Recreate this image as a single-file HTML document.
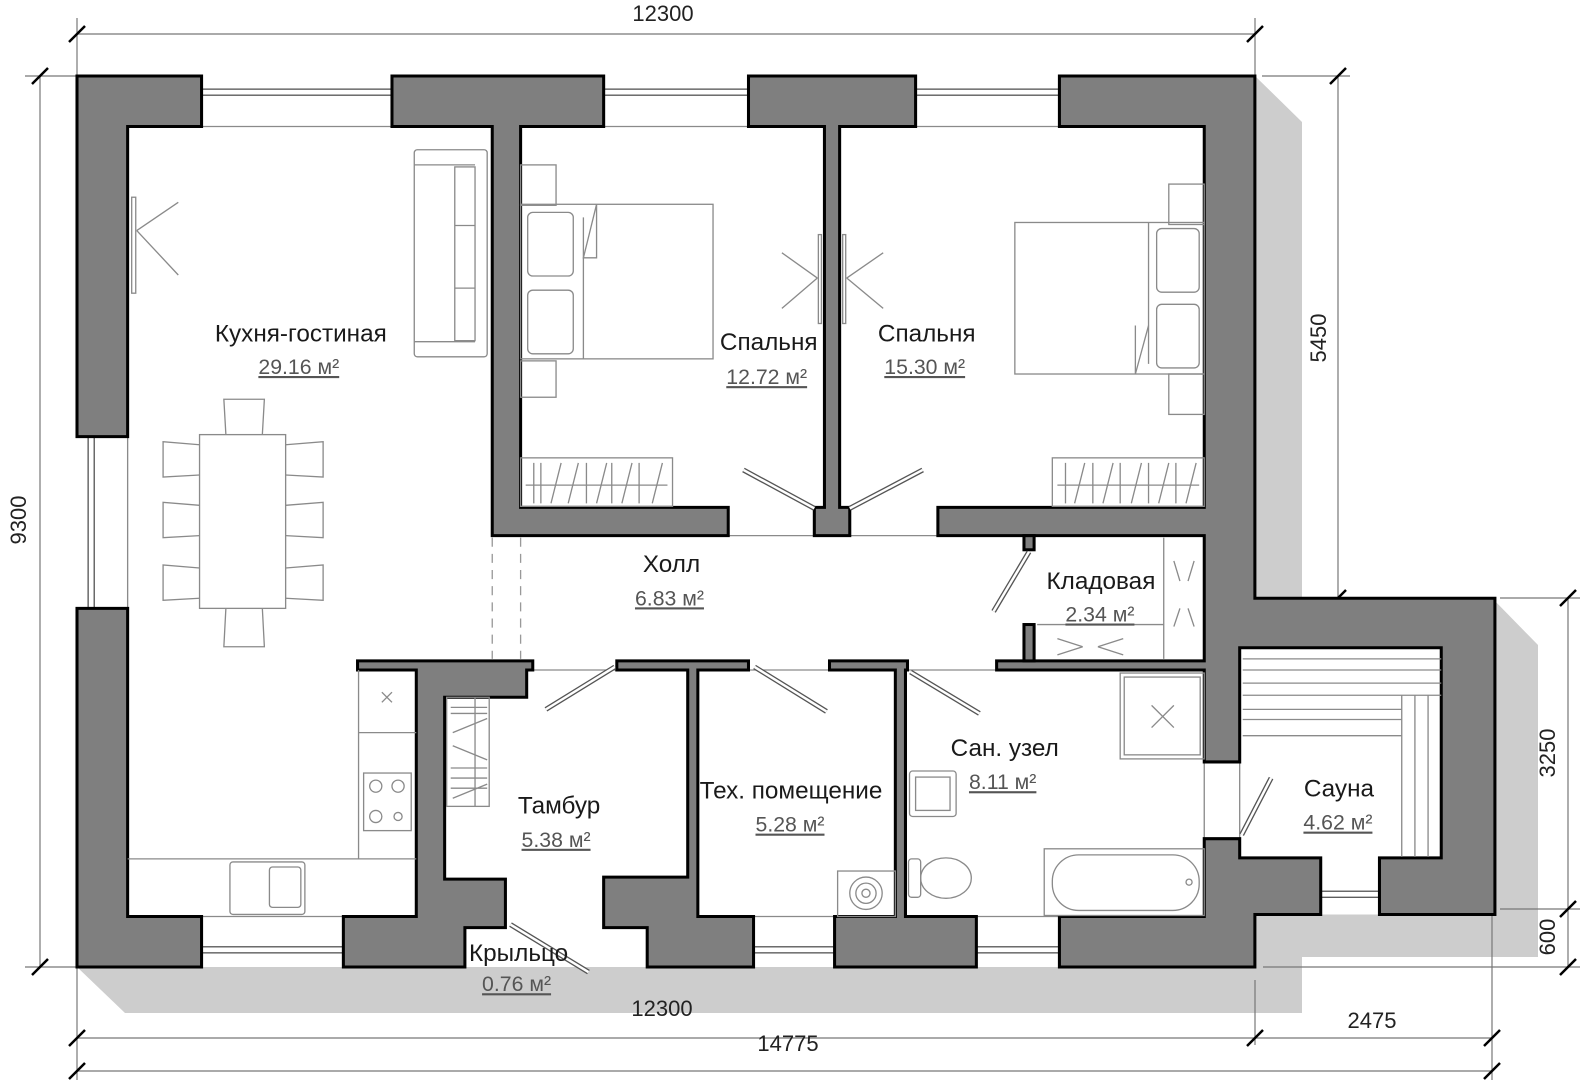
<!DOCTYPE html>
<html><head><meta charset="utf-8"><style>
html,body{margin:0;padding:0;background:#fff;width:1583px;height:1080px;overflow:hidden}
svg{display:block}
.w{fill:#7f7f7f;stroke:#000;stroke-width:3;stroke-linejoin:miter}
.f{fill:none;stroke:#8a8a8a;stroke-width:1.3}
.d{stroke:#777;stroke-width:1.2;fill:none}
.t{font-family:"Liberation Sans",sans-serif;font-size:24px;fill:#1a1a1a;text-anchor:middle}
.a{font-family:"Liberation Sans",sans-serif;font-size:21px;fill:#555;text-anchor:middle;text-decoration:underline}
.dim{font-family:"Liberation Sans",sans-serif;font-size:22px;fill:#222;text-anchor:middle}
.tk{stroke:#000;stroke-width:2.5}
.win{fill:#fff;stroke:#555;stroke-width:1.3}
.door{stroke:#555;stroke-width:5;stroke-linecap:butt}
.door2{stroke:#fff;stroke-width:2.4}
</style></head><body>
<svg width="1583" height="1080" viewBox="0 0 1583 1080" xmlns="http://www.w3.org/2000/svg">
<!-- shadow -->
<polygon points="1255,76 1302,122 1302,598 1492,598 1538,645 1538,957 1302,957 1302,1013 125,1013 77,967" fill="#cdcdcd"/>
<!-- dimension lines -->
<g class="d">
<line x1="77" y1="34" x2="1255" y2="34"/><line x1="77" y1="18" x2="77" y2="76"/><line x1="1255" y1="18" x2="1255" y2="76"/>
<line x1="40" y1="76" x2="40" y2="967"/><line x1="25" y1="76" x2="77" y2="76"/><line x1="25" y1="967" x2="77" y2="967"/>
<line x1="1338" y1="76" x2="1338" y2="598"/><line x1="1262" y1="76" x2="1350" y2="76"/><line x1="1300" y1="598" x2="1350" y2="598"/>
<line x1="1568" y1="598" x2="1568" y2="967"/><line x1="1500" y1="598" x2="1580" y2="598"/><line x1="1500" y1="909" x2="1580" y2="909"/><line x1="1263" y1="967" x2="1580" y2="967"/>
<line x1="77" y1="1038" x2="1492" y2="1038"/><line x1="77" y1="1071" x2="1492" y2="1071"/>
<line x1="77" y1="967" x2="77" y2="1080"/><line x1="1255" y1="980" x2="1255" y2="1045"/><line x1="1492" y1="915" x2="1492" y2="1080"/>
</g>
<g class="tk">
<line x1="69" y1="42" x2="85" y2="26"/><line x1="1247" y1="42" x2="1263" y2="26"/>
<line x1="32" y1="84" x2="48" y2="68"/><line x1="32" y1="975" x2="48" y2="959"/>
<line x1="1330" y1="84" x2="1346" y2="68"/><line x1="1330" y1="606" x2="1346" y2="590"/>
<line x1="1560" y1="606" x2="1576" y2="590"/><line x1="1560" y1="917" x2="1576" y2="901"/><line x1="1560" y1="975" x2="1576" y2="959"/>
<line x1="69" y1="1046" x2="85" y2="1030"/><line x1="1247" y1="1046" x2="1263" y2="1030"/><line x1="1484" y1="1046" x2="1500" y2="1030"/>
<line x1="69" y1="1079" x2="85" y2="1063"/><line x1="1484" y1="1079" x2="1500" y2="1063"/>
</g>
<text class="dim" x="663" y="21">12300</text>
<text class="dim" x="662" y="1016">12300</text>
<text class="dim" x="1372" y="1028">2475</text>
<text class="dim" x="788" y="1051">14775</text>
<text class="dim" transform="translate(26,520) rotate(-90)">9300</text>
<text class="dim" transform="translate(1326,338) rotate(-90)">5450</text>
<text class="dim" transform="translate(1555,753) rotate(-90)">3250</text>
<text class="dim" transform="translate(1555,937) rotate(-90)">600</text>

<g transform="matrix(1.0128,0,0,1.0102,-0.986,0.235)">
<!-- white footprint -->
<polygon points="77,75 1240,75 1240,592 1477,592 1477,905 1240,905 1240,957 77,957" fill="#fff"/>
<!-- windows -->
<g class="win">
<rect x="200" y="88" width="188" height="6"/><rect x="597" y="88" width="143" height="6"/><rect x="905" y="88" width="142" height="6"/>
<rect x="88" y="432" width="6" height="170"/>
<rect x="200" y="937" width="140" height="6"/><rect x="745" y="937" width="80" height="6"/><rect x="965" y="937" width="82" height="6"/>
<rect x="1305" y="882" width="58" height="6"/>
</g>
<g class="f"><line x1="200" y1="125" x2="388" y2="125"/><line x1="597" y1="125" x2="740" y2="125"/><line x1="905" y1="125" x2="1047" y2="125"/>
<line x1="127" y1="432" x2="127" y2="602"/><line x1="200" y1="907" x2="340" y2="907"/><line x1="745" y1="907" x2="825" y2="907"/><line x1="965" y1="907" x2="1047" y2="907"/>
<line x1="720" y1="530" x2="805" y2="530"/><line x1="840" y1="530" x2="927" y2="530"/><line x1="527" y1="663" x2="610" y2="663"/><line x1="740" y1="663" x2="820" y2="663"/><line x1="897" y1="663" x2="985" y2="663"/>
<line x1="1190" y1="754" x2="1190" y2="830"/><line x1="1225" y1="754" x2="1225" y2="830"/>
</g>
<!-- walls -->
<polygon class="w" points="77,75 200,75 200,125 127,125 127,432 77,432"/>
<polygon class="w" points="388,75 597,75 597,125 515,125 515,502 720,502 720,530 487,530 487,125 388,125"/>
<polygon class="w" points="740,75 905,75 905,125 830,125 830,502 840,502 840,530 805,530 805,502 815,502 815,125 740,125"/>
<polygon class="w" points="1047,75 1240,75 1240,592 1477,592 1477,905 1363,905 1363,849 1424,849 1424,641 1225,641 1225,754 1190,754 1190,663 985,663 985,654 1190,654 1190,530 927,530 927,502 1190,502 1190,125 1047,125"/>
<polygon class="w" points="1190,830 1225,830 1225,849 1305,849 1305,905 1240,905 1240,957 1047,957 1047,907 1190,907"/>
<polygon class="w" points="77,602 127,602 127,907 200,907 200,957 77,957"/>
<polygon class="w" points="354,654 527,654 527,663 521,663 521,690 440,690 440,870 500,870 500,918 460,918 460,957 340,957 340,907 412,907 412,663 354,663"/>
<polygon class="w" points="610,654 740,654 740,663 690,663 690,907 745,907 745,957 640,957 640,918 597,918 597,868 680,868 680,663 610,663"/>
<polygon class="w" points="820,654 897,654 897,663 895,663 895,907 965,907 965,957 825,957 825,907 885,907 885,663 820,663"/>
<rect class="w" x="1012" y="530" width="10" height="14"/>
<rect class="w" x="1012" y="618" width="10" height="36"/>
<!-- dashed -->
<g stroke="#999" stroke-width="1.3" stroke-dasharray="9,7"><line x1="487" y1="532" x2="487" y2="652"/><line x1="515" y1="532" x2="515" y2="652"/></g>
<!-- doors -->
<g>
<line class="door" x1="805" y1="503" x2="735" y2="465"/><line class="door2" x1="805" y1="503" x2="735" y2="465"/>
<line class="door" x1="840" y1="503" x2="912" y2="465"/><line class="door2" x1="840" y1="503" x2="912" y2="465"/>
<line class="door" x1="1017" y1="546" x2="982" y2="605"/><line class="door2" x1="1017" y1="546" x2="982" y2="605"/>
<line class="door" x1="608" y1="660" x2="540" y2="702"/><line class="door2" x1="608" y1="660" x2="540" y2="702"/>
<line class="door" x1="746" y1="660" x2="817" y2="704"/><line class="door2" x1="746" y1="660" x2="817" y2="704"/>
<line class="door" x1="900" y1="665" x2="968" y2="706"/><line class="door2" x1="900" y1="665" x2="968" y2="706"/>
<line class="door" x1="1227" y1="826" x2="1256" y2="770"/><line class="door2" x1="1227" y1="826" x2="1256" y2="770"/>
<line class="door" x1="505" y1="915" x2="582" y2="962"/><line class="door2" x1="505" y1="915" x2="582" y2="962"/>
</g>
<!-- furniture -->
<g class="f">
<rect x="131" y="195" width="4" height="95"/><line x1="136" y1="228" x2="177" y2="200"/><line x1="136" y1="228" x2="177" y2="272"/>
<rect x="410" y="148" width="72" height="205" rx="3"/><line x1="410" y1="163" x2="470" y2="163"/><line x1="410" y1="338" x2="470" y2="338"/>
<rect x="450" y="165" width="20" height="172"/><line x1="450" y1="223" x2="470" y2="223"/><line x1="450" y1="285" x2="470" y2="285"/>
<rect x="198" y="430" width="85" height="172"/>
<path d="M224,430 L222,395 L262,395 L260,430"/><path d="M224,602 L222,640 L262,640 L260,602"/>
<path d="M198,440 L162,437 L162,472 L198,470"/><path d="M198,500 L162,497 L162,532 L198,530"/><path d="M198,562 L162,559 L162,594 L198,592"/>
<path d="M283,440 L320,437 L320,472 L283,470"/><path d="M283,500 L320,497 L320,532 L283,530"/><path d="M283,562 L320,559 L320,594 L283,592"/>
<line x1="355" y1="663" x2="355" y2="850"/><line x1="127" y1="850" x2="412" y2="850"/><line x1="355" y1="725" x2="412" y2="725"/>
<line x1="378" y1="685" x2="388" y2="695"/><line x1="388" y1="685" x2="378" y2="695"/>
<rect x="360" y="765" width="47" height="57"/><circle cx="372" cy="778" r="6"/><circle cx="394" cy="778" r="6"/><circle cx="372" cy="808" r="6"/><circle cx="394" cy="808" r="4"/>
<rect x="228" y="853" width="74" height="52" rx="3"/><rect x="267" y="858" width="31" height="40" rx="3"/>
<rect x="515" y="163" width="35" height="40"/><rect x="515" y="357" width="35" height="36"/>
<rect x="515" y="202" width="190" height="153"/><line x1="577" y1="215" x2="577" y2="355"/><path d="M577,255 L590,202 L590,255 Z"/>
<rect x="522" y="210" width="45" height="63" rx="5"/><rect x="522" y="287" width="45" height="63" rx="5"/>
<rect x="515" y="453" width="150" height="48"/><line x1="520" y1="480" x2="660" y2="480"/>
<path d="M528,458 v40 M535,458 v40 M545,498 l10,-40 M562,498 l10,-40 M580,458 v40 M590,498 l10,-40 M605,458 v40 M615,498 l10,-40 M632,458 v40 M645,498 l10,-40"/>
<rect x="809" y="232" width="3" height="88"/><line x1="808" y1="275" x2="773" y2="250"/><line x1="808" y1="275" x2="773" y2="305"/>
<rect x="833" y="232" width="3" height="88"/><line x1="837" y1="275" x2="873" y2="250"/><line x1="837" y1="275" x2="873" y2="305"/>
<rect x="1155" y="182" width="35" height="40"/><rect x="1155" y="370" width="35" height="40"/>
<rect x="1003" y="220" width="187" height="150"/><line x1="1135" y1="220" x2="1135" y2="360"/><path d="M1135,322 L1122,370 L1122,322"/>
<rect x="1143" y="226" width="42" height="63" rx="5"/><rect x="1143" y="301" width="42" height="63" rx="5"/>
<rect x="1040" y="453" width="150" height="48"/><line x1="1045" y1="480" x2="1185" y2="480"/>
<path d="M1053,458 v40 M1062,498 l10,-40 M1080,458 v40 M1090,498 l10,-40 M1107,458 v40 M1118,498 l10,-40 M1135,458 v40 M1145,498 l10,-40 M1162,458 v40 M1172,498 l10,-40"/>
<line x1="1150" y1="532" x2="1150" y2="652"/><line x1="1025" y1="618" x2="1150" y2="618"/>
<path d="M1160,555 l6,20 M1180,555 l-6,20 M1160,620 l6,-18 M1180,620 l-6,-18 M1045,632 l25,8 M1045,648 l25,-8 M1110,632 l-25,8 M1110,648 l-25,-8"/>
<rect x="442" y="690" width="42" height="108"/><line x1="470" y1="690" x2="470" y2="798"/>
<path d="M446,700 h36 M446,706 h36 M446,760 h36 M446,770 h36 M446,780 h36 M448,725 l34,-14 M448,738 l34,14 M448,790 l34,-14"/>
<rect x="1107" y="666" width="83" height="85"/><rect x="1111" y="670" width="75" height="77"/>
<line x1="1138" y1="698" x2="1160" y2="720"/><line x1="1160" y1="698" x2="1138" y2="720"/>
<rect x="1032" y="840" width="158" height="66"/><rect x="1040" y="846" width="145" height="55" rx="26"/><circle cx="1175" cy="873" r="3"/>
<rect x="899" y="763" width="46" height="45" rx="3"/><rect x="905" y="769" width="34" height="33"/>
<rect x="898" y="850" width="12" height="38" rx="3"/><ellipse cx="935" cy="869" rx="25" ry="20"/>
<rect x="828" y="862" width="57" height="45"/><circle cx="856" cy="884" r="16"/><circle cx="856" cy="884" r="10"/><circle cx="856" cy="884" r="4"/>
<path d="M1228,652 h196 M1228,663 h196 M1228,676 h196 M1228,688 h196 M1228,702 h157 M1228,712 h157 M1228,728 h157"/>
<path d="M1385,688 v160 M1398,688 v160 M1411,688 v160"/>
</g>
<!-- labels -->
<text class="t" x="298" y="338">Кухня-гостиная</text><text class="a" x="296" y="370">29.16 м²</text>
<text class="t" x="760" y="346">Спальня</text><text class="a" x="758" y="380">12.72 м²</text>
<text class="t" x="916" y="338">Спальня</text><text class="a" x="914" y="370">15.30 м²</text>
<text class="t" x="664" y="566">Холл</text><text class="a" x="662" y="599">6.83 м²</text>
<text class="t" x="1088" y="583">Кладовая</text><text class="a" x="1087" y="615">2.34 м²</text>
<text class="t" x="993" y="748">Сан. узел</text><text class="a" x="991" y="781">8.11 м²</text>
<text class="t" x="553" y="805">Тамбур</text><text class="a" x="550" y="838">5.38 м²</text>
<text class="t" x="782" y="790">Тех. помещение</text><text class="a" x="781" y="823">5.28 м²</text>
<text class="t" x="1323" y="788">Сауна</text><text class="a" x="1322" y="821">4.62 м²</text>
<text class="t" x="513" y="951">Крыльцо</text><text class="a" x="511" y="981">0.76 м²</text>
</g>
</svg>
</body></html>
